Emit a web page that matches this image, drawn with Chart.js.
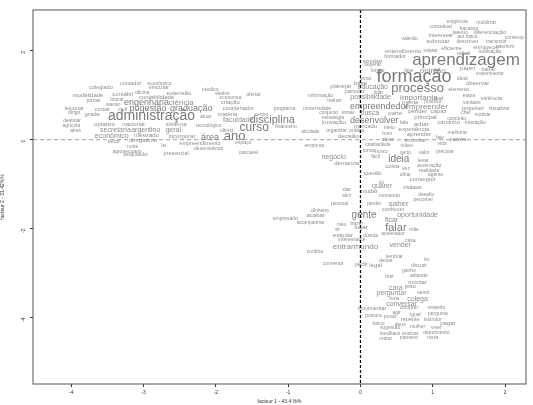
<!DOCTYPE html>
<html><head><meta charset="utf-8">
<script src="https://cdn.jsdelivr.net/npm/chart.js@4"></script>
<style>html,body{margin:0;padding:0;background:#fff}#w{width:533px;height:405px}</style>
</head><body><div id="w"><canvas id="c"></canvas></div>
<script>
const words=["aprendizagem","formação","processo","administração","curso","ano","disciplina","gente","falar","ideia","empreendedor","empreender","desenvolver","importante","engenharia","pogestão","graduação","ciência","área","opinião","educação","possibilidade","saber","quarer","entrarmundo","vender","oportunidade","ficar","negócio","colega","conversar","perguntar","cara","montar","experiência","aprender","achar","caminho","mercado","geral","argentino","secretaria","econômico","optativo","nacional","obrigatório","mestrado","incorporar","matéria","faculdade","criação","coordenador","extensão","vincular","contábil","contabilidade","colegiado","contador","econômico","modalidade","santo","civil","cursar","juntar","grade","lecionar","dirigir","destinar","agrícola","aires","litoral","oficina","setor","noite","agropecuário","pesquisador","lei","presencial","empreendimento","desenvolvido","espaço","cascavel","tecnológico","último","sistema","atuar","centro","médico","eletivo","economia","ofertar","financeiro","programa","universidade","informação","treinar","planejar","conjunto","estratégia","inovação","tomar","busca","atividade","organizar","prático","decisão","empresa","demanda","questão","dar","abrir","mudar","pessoal","perder","conhecer","dinheiro","acabar","empresário","acompanhar","mês","trazer","lugar","vir","estudar","dúvida","interessante","acelerador","mãe","casa","curitiba","conversa","pedir","legal","deixar","lembrar","ler","discutir","ganho","adiantar","tirar","jeito","sentir","nota","comprar","respeito","movimentar","agir","igual","pergunta","postura","puxar","repente","instrutor","pagar","baixo","deus","mulher","sugestão","viver","feedback","ensinar","depoimento","matar","parceiro","meta","conseguir","olhar","realidade","aceleração","levar","vez","agente","coisa","fácil","novo","tomar","certo","valor","precisar","criatividade","vídeo","aluno","encontrar","bom","vida","fato","palavra","melhorar","interação","conceito","principal","motivar","chef","possível","visualizar","vontade","vivência","etapa","mente","positivo","real","capaz","pender","parte","fala","meio","elemento","observar","ideal","experimento","papel","baixar","fase","formar","tema","base","parecer","ligar","acreditar","superar","formador","entendimento","relatar","eficiente","refletir","motivação","enriquecer","interferir","valerão","interessar","subnotar","diferenciação","talento","ato típico","descrever","transmitir","contemp","conceitual","fracasso","exigência","mobilizar","desafio","perceber","visão","sair","momento","só"];
const factor1=[1.46,0.74,0.79,-2.89,-1.47,-1.74,-1.22,0.05,0.49,0.53,0.26,0.91,0.19,0.81,-2.96,-2.94,-2.34,-2.48,-2.08,1.0,0.17,0.14,0.53,0.30,-0.07,0.55,0.79,0.43,-0.37,0.79,0.57,0.43,0.49,0.79,0.74,0.81,0.84,1.22,0.07,-2.59,-2.97,-3.39,-3.44,-3.54,-3.14,-3.01,-2.96,-2.47,-1.84,-1.69,-1.80,-1.69,-2.51,-2.79,-3.29,-2.82,-3.59,-3.18,-2.78,-3.77,-3.42,-3.29,-3.57,-3.69,-3.71,-3.96,-3.96,-3.99,-4.0,-3.94,-3.37,-3.02,-3.41,-3.15,-3.23,-3.11,-2.72,-2.55,-2.22,-2.10,-1.62,-1.55,-2.10,-1.85,-2.55,-2.14,-1.37,-2.08,-1.91,-1.80,-1.48,-1.03,-1.05,-0.60,-0.55,-0.36,-0.27,-0.44,-0.38,-0.37,-0.17,0.13,-0.69,-0.33,-0.05,-0.17,-0.64,-0.19,0.17,-0.19,-0.19,0.12,-0.29,0.19,0.45,-0.56,-0.62,-1.04,-0.69,-0.26,-0.05,0.01,-0.32,-0.24,0.14,-0.12,0.45,0.74,0.69,-0.63,-0.38,0.01,0.21,0.35,0.47,0.92,0.81,0.67,0.81,0.40,0.69,0.87,0.47,0.67,1.05,0.16,0.50,0.76,1.07,0.18,0.41,0.69,1.0,1.21,0.25,0.55,0.79,0.41,1.05,0.41,0.69,1.05,0.35,0.67,1.0,0.86,0.62,0.95,0.95,0.87,0.63,1.04,0.44,0.21,0.29,0.12,0.62,0.88,1.17,0.24,0.64,0.38,0.76,0.37,1.13,1.10,1.35,1.34,1.59,1.33,0.90,1.69,1.46,1.55,1.92,1.54,1.81,1.50,0.69,1.00,1.08,1.08,0.79,0.48,0.60,0.40,1.36,1.62,1.41,1.79,1.48,1.77,0.67,0.24,0.07,0.0,-0.08,0.25,0.17,0.17,0.48,0.59,0.97,1.26,1.43,1.79,1.74,2.0,0.68,1.11,1.07,1.79,1.38,1.48,1.48,1.88,2.13,1.11,1.50,1.34,1.74,0.91,0.87,0.67,0.79,0.40,0.29];
const factor2=[1.78,1.41,1.16,0.53,0.27,0.08,0.44,-1.71,-1.98,-0.45,0.74,0.74,0.44,0.95,0.83,0.70,0.70,0.82,0.04,1.56,1.18,0.95,-1.45,-1.05,-2.42,-2.38,-1.69,-1.80,-0.38,-3.58,-3.70,-3.46,-3.34,-3.22,0.24,0.13,0.34,0.38,0.30,0.22,0.22,0.21,0.08,0.34,0.34,-0.02,0.09,0.08,0.58,0.45,0.83,0.71,1.05,1.17,1.03,0.95,1.17,1.27,1.27,1.0,0.79,0.68,0.68,0.88,0.58,0.71,0.62,0.43,0.32,0.20,0.90,1.07,-0.03,-0.15,-0.26,-0.34,-0.13,-0.30,-0.09,-0.19,-0.06,-0.30,0.32,0.20,0.35,0.51,0.56,1.13,1.04,0.94,1.02,0.30,0.70,0.70,0.99,0.87,1.20,0.60,0.50,0.40,0.60,0.60,0.18,0.20,0.20,0.08,-0.13,-0.53,-0.77,-1.11,-1.27,-1.17,-1.45,-1.43,-1.57,-1.60,-1.70,-1.77,-1.86,-1.91,-1.88,-1.98,-2.03,-2.16,-2.16,-2.26,-2.12,-2.03,-2.27,-2.53,-2.80,-2.81,-2.83,-2.73,-2.64,-2.70,-2.84,-2.94,-3.05,-3.09,-3.31,-3.44,-3.58,-3.78,-3.78,-3.81,-3.90,-3.94,-3.92,-3.95,-3.98,-4.05,-4.04,-4.13,-4.13,-4.16,-4.21,-4.24,-4.24,-4.36,-4.37,-4.34,-4.47,-4.45,-4.45,-0.89,-0.79,-0.70,-0.59,-0.48,-0.65,-0.78,-0.59,-0.39,-0.27,-0.25,-0.30,-0.30,-0.27,-0.12,-0.13,0.01,-0.01,0.13,-0.08,0.05,0.0,0.17,0.39,0.48,0.51,0.56,0.61,0.70,0.71,0.84,0.94,0.99,0.84,0.85,0.92,0.63,0.63,0.60,0.39,0.28,1.12,1.27,1.38,1.48,1.60,1.57,1.55,1.56,1.38,1.27,1.08,1.05,1.75,1.68,1.88,2.0,2.01,2.05,1.94,1.98,2.08,2.09,2.27,2.34,2.21,2.42,2.40,2.32,2.21,2.21,2.30,2.54,2.51,2.66,2.63,-1.24,-1.36,-1.08,-1.08,-1.26,-0.96];
const weights=[17,18,13,14,12,13,11,10,11,10,9,8,9,8,9,9,9,8,9,8,7,7,8,7,8,7,7,7,7,7,7,7,7,6,6,6,6,6,6,7,7,7,7,6,6,6,6,6,6,7,6,5.5,6,6,6,6,5.5,5.5,5,6,6,5.5,5.5,5.5,6,5.5,5,5,5,5,5.5,5,5.5,5,5,4.5,5,5.5,5.5,5,5,5,5,5,6,5,5,5,5,5,5,5,5,5,5,5,6,5,5,6,5,7,4.5,5,5,6,5,6,5,6,4.5,6,5,5,5.5,5,6,5,5,5,5,6,5,6,5,5,5,5,5,5,5,6,6,5,5,5,5,5,5,5,6,5,5,5,5,5.5,5,5,5,5,5,5.5,5,6,5,5,5,5,5,5,5,5,5,5,5,6,5,5,5,5,5,5,6,5,6,5,5,5,5,5,5,5,5,5,5,5,5,5,5,5,6,5,5,6,5,5,6,5,6,5,5.5,6,6,6,5,5,5,6,5,5,6,5,5,5,5,6,6,5,5,5,5.5,6,5,5.5,5,5,5.5,5,5,5.5,6,5.5,5,5,5,5,5,5,5,5,5,5,5,5,5,5,5,5,5,5,5,5.5,6,5];
const xTicks=[-4,-3,-2,-1,0,1,2];
const yTicks=[-4,-2,0,2];

const labelPlugin={id:'lbl',afterDatasetsDraw(ch){
  const c=ch.ctx,xs=ch.scales.x,ys=ch.scales.y,a=ch.chartArea;
  c.save();
  c.beginPath();c.rect(a.left,a.top,a.right-a.left,a.bottom-a.top);c.clip();
  c.textAlign='center';c.textBaseline='middle';
  words.forEach((w,i)=>{const s=weights[i];
    c.fillStyle=s>=9?'#7a7a7a':'#8c8c8c';
    c.font=s+'px "Liberation Sans", Arial, sans-serif';
    c.fillText(w,xs.getPixelForValue(factor1[i]),ys.getPixelForValue(factor2[i]));});
  c.restore();
  c.save();
  c.strokeStyle='#000';c.lineWidth=1.2;c.setLineDash([3,2]);
  let x0=xs.getPixelForValue(0);c.beginPath();c.moveTo(x0,a.top);c.lineTo(x0,a.bottom);c.stroke();
  c.strokeStyle='#888';c.lineWidth=0.8;c.setLineDash([4,3]);
  let y0=ys.getPixelForValue(0);c.beginPath();c.moveTo(a.left,y0);c.lineTo(a.right,y0);c.stroke();
  c.setLineDash([]);c.strokeStyle='#555';c.lineWidth=1;c.strokeRect(a.left,a.top,a.right-a.left,a.bottom-a.top);
  c.restore();
}};
const tf={size:5,family:'"Liberation Sans", Arial, sans-serif'};
new Chart(document.getElementById('c'),{
  type:'scatter',
  data:{datasets:[{data:words.map((w,i)=>({x:factor1[i],y:factor2[i]})),pointRadius:0}]},
  options:{responsive:true,maintainAspectRatio:false,animation:false,
    layout:{padding:{left:0,right:7,top:10,bottom:0}},
    plugins:{legend:{display:false},tooltip:{enabled:false}},
    scales:{
      x:{min:-4.53,max:2.29,afterBuildTicks(s){s.ticks=xTicks.map(v=>({value:v}));},
        afterFit(s){s.height=21;},
        ticks:{color:'#333',font:tf,maxRotation:0,padding:3},
        grid:{drawOnChartArea:false,tickLength:3,color:'#333'},border:{display:false},
        title:{display:true,text:'facteur 1 - 43.4 %%',color:'#333',font:tf,padding:{top:3,bottom:0}}},
      y:{min:-5.5,max:2.92,afterBuildTicks(s){s.ticks=yTicks.map(v=>({value:v}));},
        afterFit(s){s.width=33;},
        ticks:{color:'#333',font:tf,minRotation:90,maxRotation:90,padding:6},
        grid:{drawOnChartArea:false,tickLength:3,color:'#333'},border:{display:false},
        title:{display:true,text:'facteur 2 - 31.42%%',color:'#333',font:tf,padding:{top:0,bottom:4}}}
    }},
  plugins:[labelPlugin]
});
</script></body></html>
